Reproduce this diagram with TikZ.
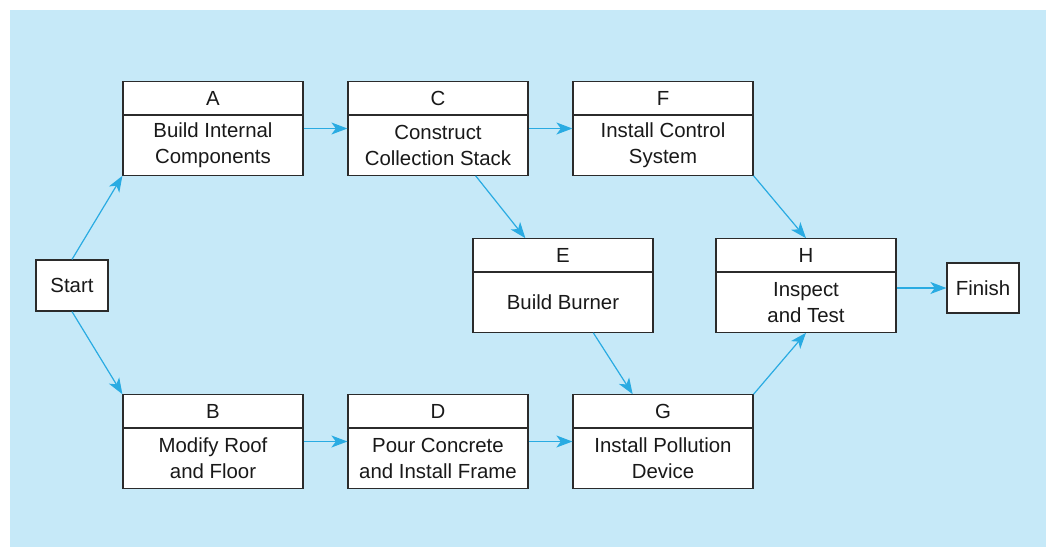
\documentclass[tikz,border=0pt]{standalone}
\usepackage{fontspec}
\setmainfont{Liberation Sans}
\usetikzlibrary{arrows.meta,positioning,shapes.multipart}
\definecolor{bgblue}{HTML}{C6E9F8}
\definecolor{arrowblue}{HTML}{29ABE2}
\definecolor{boxline}{HTML}{2B2B2B}

\newcommand{\taskhead}[1]{\parbox[c][16pt][c]{90pt}{\centering #1}}
\newcommand{\taskbody}[1]{\parbox[c][29.5pt][c]{90pt}{\centering #1}}

\begin{document}
\begin{tikzpicture}[
    x=0.5pt, y=-0.5pt,
    node distance=21.9pt,
    task/.style={rectangle split, rectangle split parts=2, draw=boxline,
                 line width=0.6pt, fill=white, inner sep=0pt,
                 text=black!90, font=\fontsize{10.2}{13}\selectfont},
    endpoint/.style={draw=boxline, line width=0.6pt, fill=white,
                     inner sep=0pt, minimum width=36pt, minimum height=25.5pt,
                     text=black!90, font=\fontsize{10.2}{13}\selectfont},
    arrow/.style={-{Stealth[length=8pt,width=6pt,inset=2.2pt]},
                  draw=arrowblue, line width=0.6pt},
]
\useasboundingbox (0,0) rectangle (1050,547);
\fill[bgblue] (10,10) rectangle (1046,547);

\node[endpoint] (start) at (72,285.5) {Start};

% upper row
\node[task] (A) at (213,128.5) {\taskhead{A}\nodepart{two}\taskbody{Build Internal\\Components}};
\node[task, right=of A] (C) {\taskhead{C}\nodepart{two}\taskbody{Construct\\Collection Stack}};
\node[task, right=of C] (F) {\taskhead{F}\nodepart{two}\taskbody{Install Control\\System}};

% lower row
\node[task] (B) at (213,441.5) {\taskhead{B}\nodepart{two}\taskbody{Modify Roof\\and Floor}};
\node[task, right=of B] (D) {\taskhead{D}\nodepart{two}\taskbody{Pour Concrete\\and Install Frame}};
\node[task, right=of D] (G) {\taskhead{G}\nodepart{two}\taskbody{Install Pollution\\Device}};

% middle row
\node[task] (E) at (563,285.5) {\taskhead{E}\nodepart{two}\taskbody{Build Burner}};
\node[task] (H) at (806,285.5) {\taskhead{H}\nodepart{two}\taskbody{Inspect\\and Test}};
\node[endpoint, minimum height=25pt] (finish) at (983,288) {Finish};

\draw[arrow] (start.north) -- (A.south west);
\draw[arrow] (start.south) -- (B.north west);
\draw[arrow] (A) -- (C);
\draw[arrow] (C) -- (F);
\draw[arrow] (B) -- (D);
\draw[arrow] (D) -- (G);
\draw[arrow] (C) -- (E);
\draw[arrow] (E) -- (G);
\draw[arrow] (F.south east) -- (H.north);
\draw[arrow] (G.north east) -- (H.south);
\draw[arrow] (H.east |- finish.west) -- (finish.west);
\end{tikzpicture}
\end{document}
